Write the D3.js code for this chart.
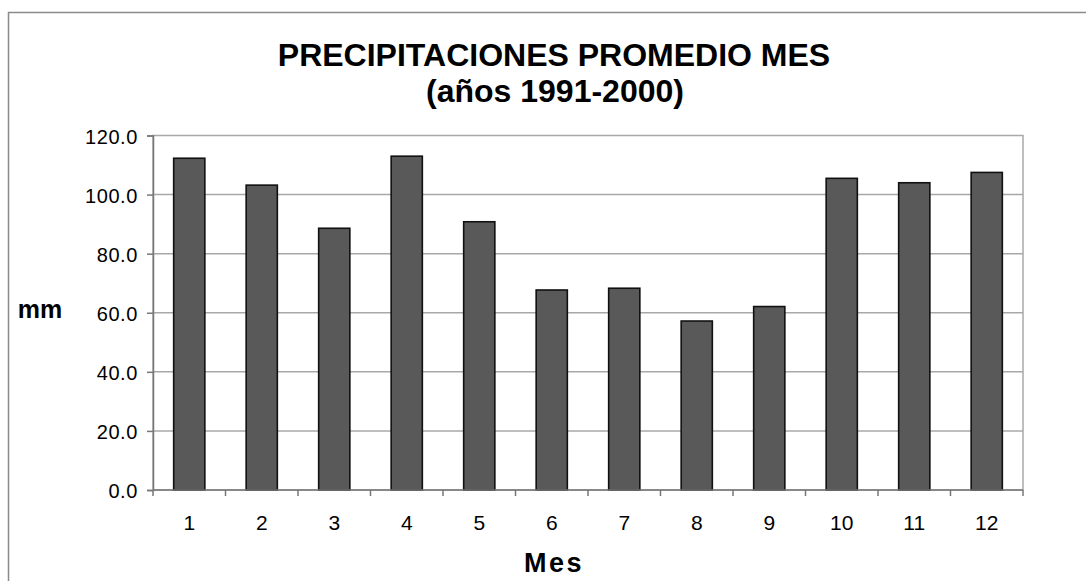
<!DOCTYPE html>
<html>
<head>
<meta charset="utf-8">
<script src="https://cdn.jsdelivr.net/npm/d3@7"></script>
<style>
  body { margin: 0; background: #fff; }
  text { font-family: "Liberation Sans", Arial, sans-serif; fill: #000; }
</style>
</head>
<body>
<div id="chart"></div>
<script>
// monthly average rainfall (mm), 1991-2000
let months = ["1", "2", "3", "4", "5", "6", "7", "8", "9", "10", "11", "12"];
let rain = [112.3, 103.2, 88.6, 113.0, 90.8, 67.7, 68.3, 57.2, 62.1, 105.5, 104.0, 107.5];
let yTicks = [0, 20, 40, 60, 80, 100, 120];

let svgWidth = 1086;
let svgHeight = 581;

let margin = { top: 135.5, right: 63, bottom: 91, left: 153 };
let width = svgWidth - margin.left - margin.right;
let height = svgHeight - margin.top - margin.bottom;

let svg = d3.select("#chart")
  .append("svg")
  .attr("width", svgWidth)
  .attr("height", svgHeight);

// outer chart frame (runs off the right and bottom edge)
svg.append("rect")
  .attr("x", 8.5)
  .attr("y", 12.5)
  .attr("width", 1200)
  .attr("height", 700)
  .attr("fill", "none")
  .attr("stroke", "#8a8a8a")
  .attr("stroke-width", 1.5);

// title
svg.append("text")
  .attr("x", 554)
  .attr("y", 66)
  .attr("text-anchor", "middle")
  .attr("font-size", 32)
  .attr("font-weight", "bold")
  .text("PRECIPITACIONES PROMEDIO MES");

svg.append("text")
  .attr("x", 555)
  .attr("y", 102)
  .attr("text-anchor", "middle")
  .attr("font-size", 32)
  .attr("font-weight", "bold")
  .text("(años 1991-2000)");

let chartGroup = svg.append("g")
  .attr("transform", `translate(${margin.left}, ${margin.top})`);

let xScale = d3.scaleBand()
  .domain(months)
  .range([0, width])
  .paddingInner(0.57)
  .paddingOuter(0.285);

let yScale = d3.scaleLinear()
  .domain([0, 120])
  .range([height, 0]);

// plot area border
chartGroup.append("rect")
  .attr("width", width)
  .attr("height", height)
  .attr("fill", "none")
  .attr("stroke", "#a8a8a8")
  .attr("stroke-width", 1.5);

// gridlines
chartGroup.append("g")
  .selectAll("line")
  .data(yTicks.filter(d => d > 0 && d < 120))
  .enter()
  .append("line")
  .attr("x1", 0)
  .attr("x2", width)
  .attr("y1", d => yScale(d))
  .attr("y2", d => yScale(d))
  .attr("stroke", "#a8a8a8")
  .attr("stroke-width", 1.5);

// bars
chartGroup.append("g")
  .selectAll("rect")
  .data(rain)
  .enter()
  .append("rect")
  .attr("x", (d, i) => xScale(months[i]))
  .attr("y", d => yScale(d))
  .attr("width", xScale.bandwidth())
  .attr("height", d => height - yScale(d))
  .attr("fill", "#595959")
  .attr("stroke", "#111")
  .attr("stroke-width", 1.6);

// y axis
let leftAxis = d3.axisLeft(yScale)
  .tickValues(yTicks)
  .tickSize(6)
  .tickPadding(9)
  .tickFormat(d3.format(".1f"));

let yAxis = chartGroup.append("g").call(leftAxis);
yAxis.select(".domain").attr("stroke", "#777").attr("stroke-width", 1.5);
yAxis.selectAll(".tick line").attr("stroke", "#777").attr("stroke-width", 1.5);
yAxis.selectAll(".tick text")
  .attr("font-size", 20)
  .attr("letter-spacing", 0.6)
  .attr("dy", "0.38em")
  .style("font-family", "'Liberation Sans', Arial, sans-serif")
  .attr("fill", "#000");

// x axis: line plus ticks between the categories
let step = xScale.step();
let xAxis = chartGroup.append("g").attr("transform", `translate(0, ${height})`);
xAxis.append("line")
  .attr("x1", 0)
  .attr("x2", width)
  .attr("stroke", "#777")
  .attr("stroke-width", 1.5);
xAxis.selectAll(".sep")
  .data(d3.range(months.length + 1))
  .enter()
  .append("line")
  .attr("class", "sep")
  .attr("x1", i => i * step)
  .attr("x2", i => i * step)
  .attr("y1", 0)
  .attr("y2", 6)
  .attr("stroke", "#777")
  .attr("stroke-width", 1.5);
xAxis.selectAll(".lbl")
  .data(months)
  .enter()
  .append("text")
  .attr("class", "lbl")
  .attr("x", d => xScale(d) + xScale.bandwidth() / 2)
  .attr("y", 40)
  .attr("text-anchor", "middle")
  .attr("font-size", 21)
  .text(d => d);

// axis titles
svg.append("text")
  .attr("x", 40)
  .attr("y", 318)
  .attr("text-anchor", "middle")
  .attr("font-size", 25)
  .attr("font-weight", "bold")
  .text("mm");

svg.append("text")
  .attr("x", 554)
  .attr("y", 572)
  .attr("text-anchor", "middle")
  .attr("font-size", 27)
  .attr("font-weight", "bold")
  .attr("letter-spacing", 2.5)
  .text("Mes");
</script>
</body>
</html>
